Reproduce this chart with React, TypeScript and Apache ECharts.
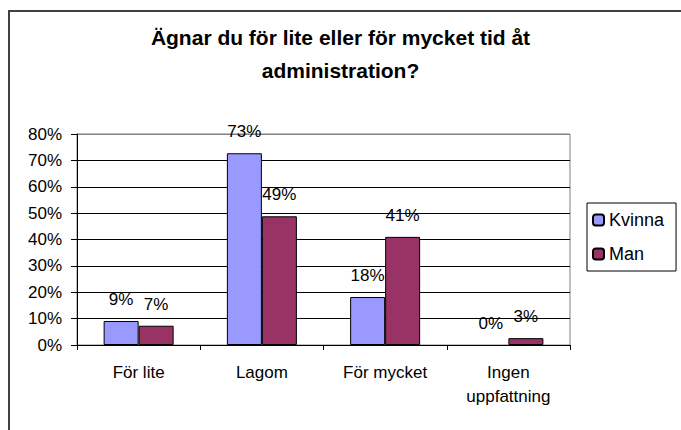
import React, { useEffect, useRef } from "react";
import * as echarts from "echarts";

const titleText = "Ägnar du för lite eller för mycket tid åt\nadministration?";
const categories = ["För lite", "Lagom", "För mycket", "Ingen\nuppfattning"];
const kvinna = [9.1, 72.7, 18.2, 0];
const man = [7.3, 48.8, 41.0, 2.6];
const seriesNames = ["Kvinna", "Man"];
const yTicks = { min: 0, max: 80, interval: 10 };

const FONT = '"Liberation Sans", Arial, sans-serif';

export default function App() {
  const ref = useRef<HTMLDivElement>(null);
  useEffect(() => {
    if (!ref.current) return;
    const chart = echarts.init(ref.current, null, { renderer: "svg" });
    const labelCfg = {
      show: true,
      position: "top",
      distance: 13,
      fontSize: 17,
      fontFamily: FONT,
      color: "#000",
      formatter: (p: any) => Math.round(p.value) + "%",
    };
    const toItems = (arr: number[]) =>
      arr.map((v) => (v === 0 ? { value: v, itemStyle: { borderWidth: 0 } } : v));
    chart.setOption({
      animation: false,
      backgroundColor: "#fff",
      textStyle: { fontFamily: FONT },
      title: {
        text: titleText,
        left: "center",
        top: 21,
        padding: 0,
        textStyle: {
          fontFamily: FONT,
          fontWeight: "bold",
          fontSize: 21,
          lineHeight: 33,
          color: "#000",
        },
      },
      graphic: [
        {
          type: "rect",
          shape: { x: 9, y: 11, width: 720, height: 460 },
          style: { fill: "none", stroke: "#404040", lineWidth: 2 },
          silent: true,
          z: 100,
        },
      ],
      legend: {
        orient: "vertical",
        left: 587,
        top: 203,
        padding: [8, 12, 8, 5],
        borderColor: "#000",
        borderWidth: 1,
        itemWidth: 11,
        itemHeight: 11,
        itemGap: 16,
        textStyle: { fontSize: 18, fontFamily: FONT, color: "#000" },
        data: seriesNames,
      },
      grid: {
        left: 77,
        right: 111,
        top: 134,
        bottom: 85,
        show: true,
        borderColor: "#808080",
        borderWidth: 1,
      },
      xAxis: {
        type: "category",
        data: categories,
        axisLine: { show: true, lineStyle: { color: "#000", width: 1 } },
        axisTick: { show: true, length: 5, interval: 0, alignWithLabel: false, lineStyle: { color: "#000" } },
        axisLabel: {
          fontSize: 17,
          fontFamily: FONT,
          color: "#000",
          margin: 15,
          lineHeight: 24,
          interval: 0,
        },
        splitLine: { show: false },
      },
      yAxis: {
        type: "value",
        min: yTicks.min,
        max: yTicks.max,
        interval: yTicks.interval,
        axisLine: { show: true, lineStyle: { color: "#000", width: 1 } },
        axisTick: { show: true, length: 6, inside: false, lineStyle: { color: "#000" } },
        axisLabel: {
          fontSize: 17,
          fontFamily: FONT,
          color: "#000",
          margin: 15,
          formatter: "{value}%",
        },
        splitLine: {
          show: true,
          lineStyle: {
            color: ["#000", "#000", "#000", "#000", "#000", "#000", "#000", "#000", "#808080"],
            width: 1,
          },
        },
      },
      series: [
        {
          name: seriesNames[0],
          type: "bar",
          data: toItems(kvinna),
          barWidth: 35,
          barGap: "0%",
          itemStyle: { color: "#9999FF", borderColor: "#000", borderWidth: 1 },
          label: labelCfg,
        },
        {
          name: seriesNames[1],
          type: "bar",
          data: toItems(man),
          barWidth: 35,
          barGap: "0%",
          itemStyle: { color: "#993366", borderColor: "#000", borderWidth: 1 },
          label: labelCfg,
        },
      ],
    });
    return () => chart.dispose();
  }, []);
  return (
    <div
      ref={ref}
      style={{ position: "absolute", left: 0, top: 0, width: 681, height: 430 }}
    />
  );
}
